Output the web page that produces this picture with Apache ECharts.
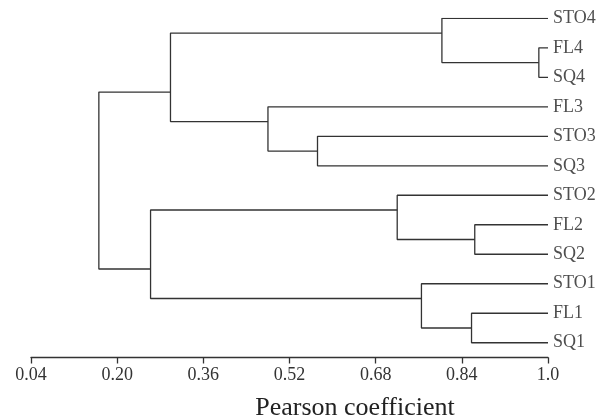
<!DOCTYPE html>
<html>
<head>
<meta charset="utf-8">
<script src="https://cdn.jsdelivr.net/npm/echarts@6/dist/echarts.min.js"></script>
<style>
html,body{margin:0;padding:0;background:#fff;}
#chart{width:599px;height:419px;}
</style>
</head>
<body>
<div id="chart"></div>
<script>
// Leaves (top to bottom) and their row positions
const leafNames = ['STO4','FL4','SQ4','FL3','STO3','SQ3','STO2','FL2','SQ2','STO1','FL1','SQ1'];
const leafRows = [0,1,2,3,4,5,6,7,8,9,10,11];
const leafHeight = 1.0;

// Merge nodes: children, Pearson coefficient at merge, row position of the node
const nodeIds    = ['A','B','C','D','E','F','G','H','I','J','R'];
const nodeChildA = ['FL4','STO4','STO3','FL3','B','STO2','FL2','STO1','FL1','F','E'];
const nodeChildB = ['SQ4','A','SQ3','C','D','G','SQ2','I','SQ1','H','J'];
const nodeHeight = [0.983,0.803,0.572,0.480,0.299,0.720,0.864,0.765,0.858,0.262,0.166];
const nodeRow    = [1.5,0.5,4.5,3.5,2.5,6.5,7.5,9.5,10.5,8.5,5.5];

// Axis ticks
const tickValues = [0.04,0.20,0.36,0.52,0.68,0.84,1.0];
const tickLabels = ['0.04','0.20','0.36','0.52','0.68','0.84','1.0'];
const axisTitle = 'Pearson coefficient';

const pos = {};
leafNames.forEach((n,i)=>{ pos[n] = {h: leafHeight, r: leafRows[i]}; });
nodeIds.forEach((n,i)=>{ pos[n] = {h: nodeHeight[i], r: nodeRow[i]}; });

const lineColor = '#333';
const series = nodeIds.map((id,i)=>{
  const a = pos[nodeChildA[i]], b = pos[nodeChildB[i]], h = nodeHeight[i];
  return {
    type:'line', symbol:'none', animation:false, silent:true,
    lineStyle:{color:lineColor,width:1.3},
    data:[[a.h,a.r],[h,a.r],[h,b.r],[b.h,b.r]]
  };
});
series.push({
  type:'scatter', symbolSize:0, animation:false, silent:true,
  data: leafNames.map((n,i)=>({name:n, value:[leafHeight, leafRows[i]]})),
  label:{show:true, position:'right', distance:5, formatter:p=>p.name,
    fontFamily:'Liberation Serif', fontSize:18, color:'#222'}
});

const chart = echarts.init(document.getElementById('chart'), null, {renderer:'canvas'});
chart.setOption({
  backgroundColor:'#fff',
  animation:false,
  grid:{left:31, right:51, top:18.3, bottom:61.5, containLabel:false, outerBoundsMode:'none'},
  xAxis:{
    type:'value', min:0.04, max:1.0, position:'bottom',
    name:axisTitle, nameLocation:'middle', nameGap:38,
    nameTextStyle:{fontFamily:'Liberation Serif', fontSize:26, color:'#222', padding:[0,0,0,131]},
    axisLine:{show:true, onZero:false, lineStyle:{color:lineColor, width:1.3}},
    axisTick:{show:true, inside:false, length:6, customValues:tickValues, lineStyle:{color:lineColor, width:1.3}},
    axisLabel:{show:true, margin:9, customValues:tickValues,
      formatter:v=>{const k=tickValues.findIndex(t=>Math.abs(t-v)<1e-6); return k>=0?tickLabels[k]:'';},
      fontFamily:'Liberation Serif', fontSize:18, color:'#333'},
    splitLine:{show:false}
  },
  yAxis:{
    type:'value', min:0, max:11.5, inverse:true, show:false,
    splitLine:{show:false}
  },
  series:series
});
</script>
</body>
</html>
